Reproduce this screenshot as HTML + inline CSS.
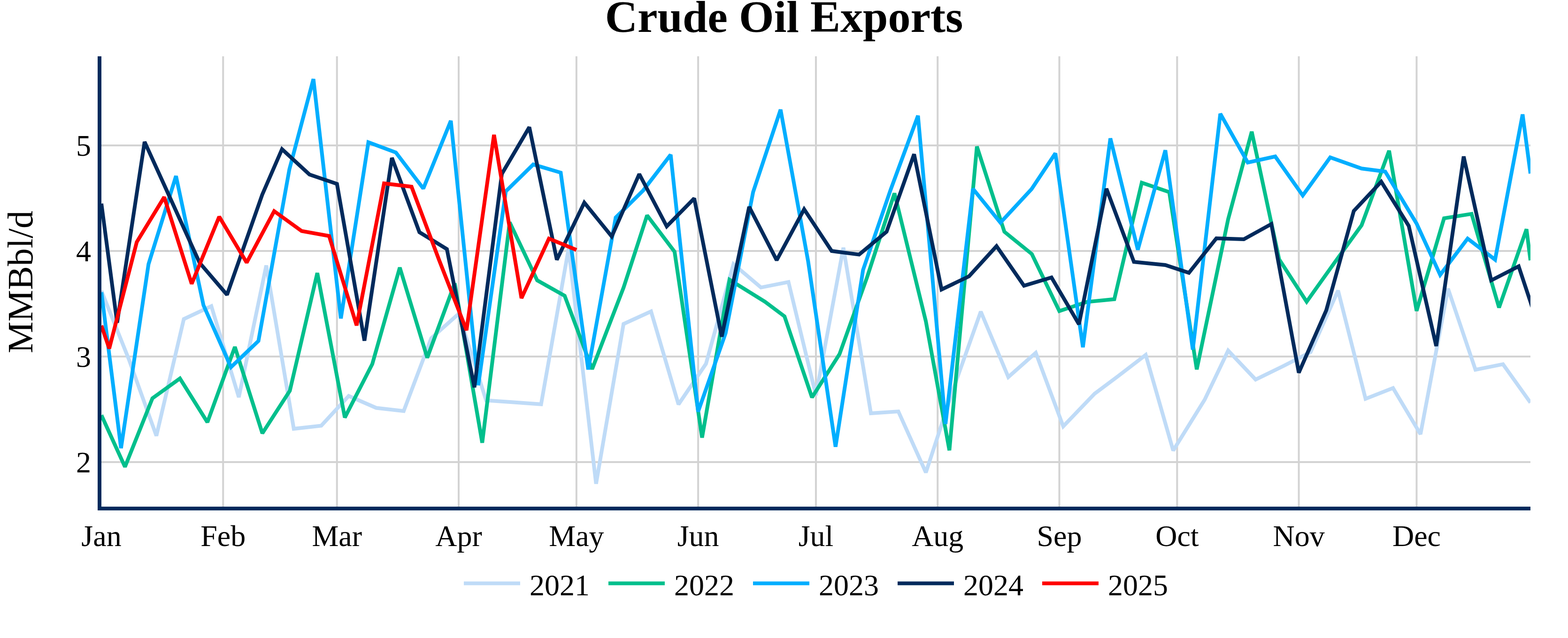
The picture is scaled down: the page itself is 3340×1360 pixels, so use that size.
<!DOCTYPE html>
<html lang="en"><head><meta charset="utf-8"><title>Crude Oil Exports</title>
<style>html,body{margin:0;padding:0;background:#fff;}body{width:3340px;height:1360px;overflow:hidden;}svg{display:block;}text{font-family:"Liberation Serif",serif;fill:#000;}</style>
</head><body>
<svg width="3340" height="1360" viewBox="0 0 3340 1360">
<rect x="0" y="0" width="3340" height="1360" fill="#ffffff"/>
<defs><clipPath id="plotclip"><rect x="216" y="120" width="3044" height="960"/></clipPath></defs>
<g stroke="#D3D3D3" stroke-width="4" fill="none">
<line x1="475.24" y1="120" x2="475.24" y2="1080"/>
<line x1="717.76" y1="120" x2="717.76" y2="1080"/>
<line x1="977.00" y1="120" x2="977.00" y2="1080"/>
<line x1="1227.88" y1="120" x2="1227.88" y2="1080"/>
<line x1="1487.12" y1="120" x2="1487.12" y2="1080"/>
<line x1="1738.00" y1="120" x2="1738.00" y2="1080"/>
<line x1="1997.24" y1="120" x2="1997.24" y2="1080"/>
<line x1="2256.48" y1="120" x2="2256.48" y2="1080"/>
<line x1="2507.36" y1="120" x2="2507.36" y2="1080"/>
<line x1="2766.60" y1="120" x2="2766.60" y2="1080"/>
<line x1="3017.48" y1="120" x2="3017.48" y2="1080"/>
<line x1="216" y1="310" x2="3260" y2="310"/>
<line x1="216" y1="535" x2="3260" y2="535"/>
<line x1="216" y1="760" x2="3260" y2="760"/>
<line x1="216" y1="985" x2="3260" y2="985"/>
</g>
<g clip-path="url(#plotclip)" fill="none" stroke-width="8" stroke-linejoin="miter" stroke-miterlimit="2" stroke-linecap="butt">
<path d="M216.0,620.0L274.5,766.0L333.1,929.0L391.6,680.0L450.2,652.7L508.7,846.7L567.2,565.9L625.8,914.0L684.3,907.5L742.8,844.0L801.4,869.5L859.9,876.1L918.5,721.0L977.0,668.9L1035.5,853.4L1094.1,857.5L1152.6,861.7L1211.2,529.8L1269.7,1031.2L1328.2,690.6L1386.8,663.8L1445.3,862.1L1503.8,775.6L1562.4,563.1L1620.9,612.8L1679.5,601.1L1738.0,842.5L1796.5,527.9L1855.1,881.1L1913.6,877.1L1972.2,1007.2L2030.7,829.0L2089.2,664.2L2147.8,803.7L2206.3,752.0L2264.8,908.8L2331.6,839.3L2381.9,801.6L2440.5,756.6L2499.0,960.3L2566.0,852.2L2616.1,747.3L2674.6,809.1L2733.2,780.5L2791.7,750.6L2850.2,619.3L2908.8,850.2L2967.3,827.1L3025.8,925.5L3084.4,615.2L3142.9,788.1L3201.5,776.4L3260.0,858.3" stroke="#BFDBF7"/>
<path d="M216.0,885.0L266.2,995.2L324.7,849.0L383.3,806.8L441.8,900.2L500.3,739.5L558.9,923.7L617.4,833.0L675.9,582.0L734.5,890.1L793.0,776.0L851.6,570.3L910.1,762.5L968.6,604.0L1027.2,943.8L1085.7,473.9L1144.3,597.6L1202.8,630.6L1261.3,786.8L1328.3,613.0L1378.4,459.1L1436.9,536.7L1495.5,932.8L1554.0,596.3L1629.3,643.0L1671.1,674.4L1729.6,847.1L1788.2,755.0L1846.7,591.8L1905.3,411.9L1972.2,685.0L2022.3,960.0L2080.9,312.3L2139.4,494.0L2197.9,541.5L2256.5,663.1L2315.0,643.6L2373.6,637.8L2432.1,389.4L2490.6,409.5L2549.2,787.5L2616.1,467.2L2666.3,280.7L2724.8,553.0L2783.3,643.2L2841.9,561.0L2900.4,480.0L2958.9,321.3L3017.5,662.7L3076.0,465.4L3134.6,455.9L3193.1,655.7L3251.6,488.5L3260.0,555.0" stroke="#00BF8C"/>
<path d="M216.0,623.0L257.8,955.3L316.4,563.0L374.9,375.3L433.4,650.6L492.0,782.6L550.5,726.8L616.4,361.0L667.6,168.5L726.1,678.9L784.7,303.3L843.2,325.0L901.7,401.9L960.3,257.4L1018.8,821.1L1077.4,408.0L1135.9,350.6L1194.4,368.0L1253.0,787.6L1311.5,463.8L1370.0,406.0L1428.6,329.8L1487.1,877.5L1545.7,710.0L1604.2,409.5L1662.7,233.7L1721.3,556.5L1779.8,952.3L1838.4,575.5L1896.9,405.0L1955.4,246.7L2014.0,903.8L2072.5,402.6L2131.0,474.7L2197.4,403.0L2248.1,326.7L2306.7,740.3L2365.2,294.9L2423.7,532.4L2482.3,320.3L2540.8,745.1L2599.4,242.4L2657.9,346.5L2716.4,333.6L2775.0,416.7L2833.5,335.5L2900.4,359.3L2950.6,365.7L3017.5,476.7L3067.7,585.9L3126.2,508.6L3184.7,553.5L3243.3,243.9L3260.0,370.0" stroke="#00AEFF"/>
<path d="M216.0,434.0L249.5,687.9L308.0,302.3L366.5,431.0L425.1,560.0L483.6,628.3L558.6,415.0L600.7,318.0L659.2,372.0L717.8,392.0L776.3,726.2L834.8,336.5L893.4,495.0L951.9,531.0L1010.5,825.7L1069.0,370.6L1127.5,271.1L1186.1,553.7L1244.6,431.9L1303.1,504.1L1361.7,371.0L1420.2,482.5L1478.8,422.9L1537.3,717.6L1595.8,440.8L1654.4,554.7L1712.9,446.1L1771.5,535.0L1830.0,542.6L1888.5,494.0L1947.1,328.7L2005.6,617.1L2064.1,589.0L2122.7,524.7L2181.2,609.1L2239.8,591.5L2298.3,691.2L2356.8,402.2L2415.4,558.3L2482.3,565.0L2532.5,581.6L2591.0,508.0L2649.5,509.9L2708.1,477.6L2766.6,794.4L2825.1,661.4L2883.7,449.8L2942.2,387.3L3000.8,481.6L3059.3,737.7L3117.8,333.6L3176.4,597.7L3234.9,567.8L3268.4,668.6" stroke="#002A5C"/>
<path d="M216.0,694.0L232.7,743.0L291.3,516.0L349.8,420.2L408.3,605.1L466.9,461.9L525.4,559.8L584.0,450.1L642.5,492.5L701.0,503.0L759.6,693.7L818.1,391.0L876.6,398.0L935.2,554.0L993.7,704.0L1052.3,287.4L1110.8,635.7L1169.3,508.6L1227.9,532.8" stroke="#FF0000"/>
</g>
<g stroke="#002A5C" stroke-width="8" fill="none">
<line x1="208" y1="1084" x2="3260" y2="1084"/>
<line x1="212" y1="120" x2="212" y2="1088"/>
</g>
<g font-size="64">
<text x="216.00" y="1164" text-anchor="middle">Jan</text>
<text x="475.24" y="1164" text-anchor="middle">Feb</text>
<text x="717.76" y="1164" text-anchor="middle">Mar</text>
<text x="977.00" y="1164" text-anchor="middle">Apr</text>
<text x="1227.88" y="1164" text-anchor="middle">May</text>
<text x="1487.12" y="1164" text-anchor="middle">Jun</text>
<text x="1738.00" y="1164" text-anchor="middle">Jul</text>
<text x="1997.24" y="1164" text-anchor="middle">Aug</text>
<text x="2256.48" y="1164" text-anchor="middle">Sep</text>
<text x="2507.36" y="1164" text-anchor="middle">Oct</text>
<text x="2766.60" y="1164" text-anchor="middle">Nov</text>
<text x="3017.48" y="1164" text-anchor="middle">Dec</text>
<text x="194" y="332.4" text-anchor="end">5</text>
<text x="194" y="557.4" text-anchor="end">4</text>
<text x="194" y="782.4" text-anchor="end">3</text>
<text x="194" y="1007.4" text-anchor="end">2</text>
</g>
<text transform="translate(68.6,601) rotate(-90)" font-size="76" text-anchor="middle">MMBbl/d</text>
<text x="1670" y="67.5" font-size="96" font-weight="bold" text-anchor="middle">Crude Oil Exports</text>
<g font-size="64">
<line x1="988" y1="1243.5" x2="1108" y2="1243.5" stroke="#BFDBF7" stroke-width="8"/>
<text x="1128" y="1269.2">2021</text>
<line x1="1296" y1="1243.5" x2="1416" y2="1243.5" stroke="#00BF8C" stroke-width="8"/>
<text x="1436" y="1269.2">2022</text>
<line x1="1604" y1="1243.5" x2="1724" y2="1243.5" stroke="#00AEFF" stroke-width="8"/>
<text x="1744" y="1269.2">2023</text>
<line x1="1912" y1="1243.5" x2="2032" y2="1243.5" stroke="#002A5C" stroke-width="8"/>
<text x="2052" y="1269.2">2024</text>
<line x1="2220" y1="1243.5" x2="2340" y2="1243.5" stroke="#FF0000" stroke-width="8"/>
<text x="2360" y="1269.2">2025</text>
</g>
</svg></body></html>
